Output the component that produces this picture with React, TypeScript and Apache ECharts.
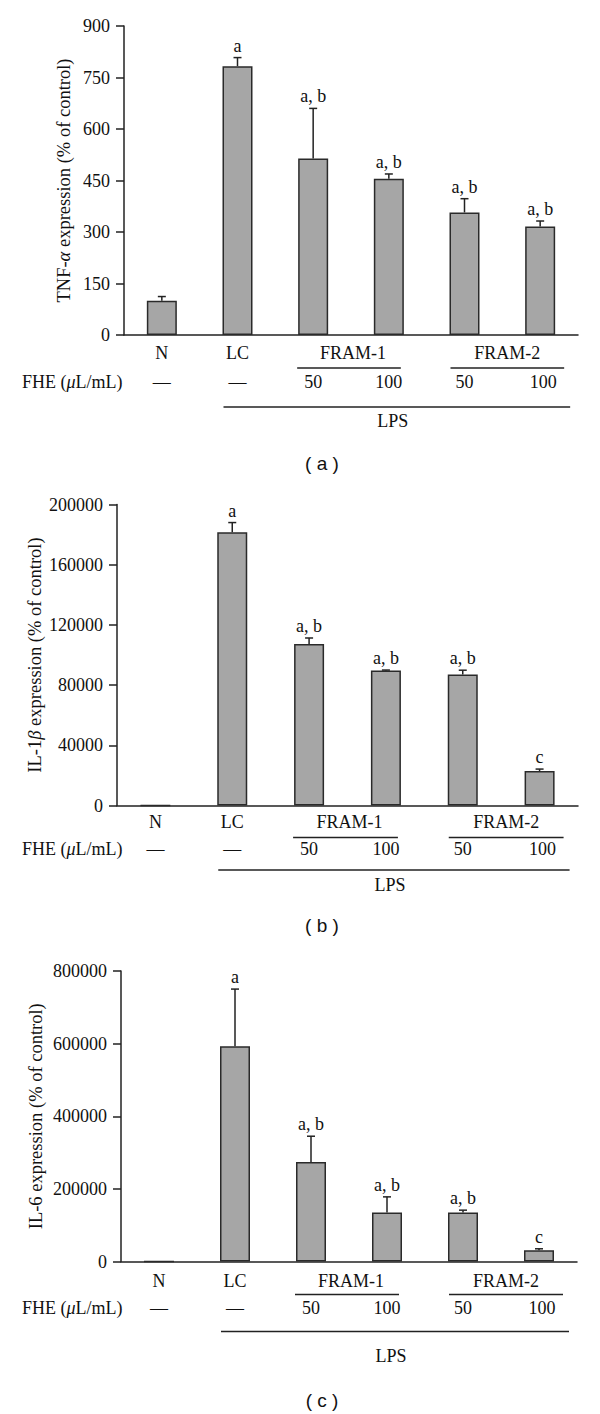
import React, { useEffect, useRef } from 'react';
import * as echarts from 'echarts';

const categories = ['N', 'LC', 'FRAM-1 50', 'FRAM-1 100', 'FRAM-2 50', 'FRAM-2 100'];
const groupNames = ['N', 'LC'];
const doseLabels = ['—', '—', '50', '100', '50', '100'];

const tnfMean = [100, 783, 514, 455, 357, 316];
const tnfSd = [12, 25, 146, 14, 40, 16];
const tnfSig = ['', 'a', 'a, b', 'a, b', 'a, b', 'a, b'];

const il1bMean = [100, 181600, 107300, 89700, 87000, 22900];
const il1bSd = [0, 6400, 4000, 300, 2900, 1300];
const il1bSig = ['', 'a', 'a, b', 'a, b', 'a, b', 'c'];

const il6Mean = [100, 592600, 274300, 135000, 135000, 31000];
const il6Sd = [0, 157600, 70700, 43000, 6400, 4000];
const il6Sig = ['', 'a', 'a, b', 'a, b', 'a, b', 'c'];

const yMaxes = [900, 200000, 800000];
const yIntervals = [150, 40000, 200000];
const yTitles = [
  'TNF-{i|α} expression (% of control)',
  'IL-1{i|β} expression (% of control)',
  'IL-6 expression (% of control)',
];
const captions = ['( a )', '( b )', '( c )'];

const SERIF = 'Liberation Serif';
const INK = '#111';

export default function App() {
  const ref = useRef<HTMLDivElement>(null);
  useEffect(() => {
    const chart = echarts.init(ref.current as HTMLDivElement, null, { renderer: 'svg' });
    const panels = [
      { mean: tnfMean, sd: tnfSd, sig: tnfSig },
      { mean: il1bMean, sd: il1bSd, sig: il1bSig },
      { mean: il6Mean, sd: il6Sd, sig: il6Sig },
    ];
    const grids = [
      { left: 124, top: 26, width: 454, height: 309 },
      { left: 117, top: 504.5, width: 461, height: 301 },
      { left: 121, top: 971, width: 456, height: 290.5 },
    ];
    const titleOff = [60, 82, 85];
    const rows = [
      { names: 18, under: 33, dose: 47, lps: 72, lpsText: 86, cap: 128 },
      { names: 16, under: 32, dose: 43, lps: 64.5, lpsText: 79, cap: 120 },
      { names: 19, under: 33, dose: 46, lps: 70, lpsText: 94, cap: 139 },
    ];
    const lineStyle = { color: '#222', width: 1.5 };

    const series: any[] = [];
    panels.forEach((p, i) => {
      series.push({
        type: 'bar',
        xAxisIndex: i,
        yAxisIndex: i,
        data: p.mean,
        barWidth: 30,
        itemStyle: { color: '#a6a6a6', borderColor: '#2a2a2a', borderWidth: 1.5 },
        z: 2,
      });
      series.push({
        type: 'custom',
        xAxisIndex: i,
        yAxisIndex: i,
        z: 3,
        data: p.mean.map((m, k) => [k, m, m + p.sd[k]]),
        renderItem: (params: any, api: any) => {
          const k = api.value(0);
          const p0 = api.coord([k, api.value(1)]);
          const p1 = api.coord([k, api.value(2)]);
          const children: any[] = [];
          if (p.sd[params.dataIndex] > 0) {
            children.push({
              type: 'line',
              shape: { x1: p0[0], y1: p0[1], x2: p1[0], y2: p1[1] },
              style: { stroke: '#222', lineWidth: 1.5 },
            });
            children.push({
              type: 'line',
              shape: { x1: p1[0] - 4, y1: p1[1], x2: p1[0] + 4, y2: p1[1] },
              style: { stroke: '#222', lineWidth: 1.5 },
            });
          }
          const lab = p.sig[params.dataIndex];
          if (lab) {
            children.push({
              type: 'text',
              x: p1[0],
              y: p1[1] - 3,
              style: {
                text: lab,
                fontSize: 18,
                fontFamily: SERIF,
                fill: INK,
                align: 'center',
                verticalAlign: 'bottom',
                textAlign: 'center',
                textVerticalAlign: 'bottom',
              },
            });
          }
          return { type: 'group', children };
        },
      });
    });

    chart.setOption({
      animation: false,
      grid: grids,
      xAxis: panels.map((_, i) => ({
        type: 'category',
        gridIndex: i,
        data: categories,
        boundaryGap: true,
        axisLine: { lineStyle },
        axisTick: { show: false },
        axisLabel: { show: false },
      })),
      yAxis: panels.map((_, i) => ({
        type: 'value',
        gridIndex: i,
        min: 0,
        max: yMaxes[i],
        interval: yIntervals[i],
        axisLine: { show: true, lineStyle },
        axisTick: { show: true, length: 8, lineStyle },
        axisLabel: {
          fontFamily: SERIF,
          fontSize: 18,
          color: INK,
          margin: 14,
          formatter: (v: number) => String(v),
        },
        splitLine: { show: false },
      })),
      series,
    });

    const graphic: any[] = [];
    const txt = (x: number, y: number, text: string, extra: any = {}) => ({
      type: 'text',
      x,
      y,
      style: {
        text,
        fontSize: 18,
        fontFamily: SERIF,
        fill: INK,
        align: 'center',
        verticalAlign: 'middle',
        textAlign: 'center',
        textVerticalAlign: 'middle',
        ...extra,
      },
    });
    const ln = (x1: number, y1: number, x2: number, y2: number) => ({
      type: 'line',
      shape: { x1, y1, x2, y2 },
      style: { stroke: '#222', lineWidth: 1.5 },
    });

    panels.forEach((_, i) => {
      const pts = categories.map((_, k) => chart.convertToPixel({ gridIndex: i }, [k, 0]) as number[]);
      const cx = pts.map((q) => q[0]);
      const y0 = pts[0][1];
      const r = rows[i];
      const g = grids[i];
      graphic.push({
        type: 'text',
        x: g.left - titleOff[i],
        y: g.top + g.height / 2,
        rotation: Math.PI / 2,
        style: {
          text: yTitles[i],
          fontSize: 18.5,
          fontFamily: SERIF,
          fill: INK,
          align: 'center',
          verticalAlign: 'middle',
          textAlign: 'center',
          textVerticalAlign: 'middle',
          rich: { i: { fontStyle: 'italic', fontSize: 18.5, fontFamily: SERIF, fill: INK } },
        },
      });
      groupNames.forEach((n, k) => graphic.push(txt(cx[k], y0 + r.names, n)));
      graphic.push(txt((cx[2] + cx[3]) / 2 + 2, y0 + r.names, 'FRAM-1'));
      graphic.push(txt((cx[4] + cx[5]) / 2 + 5, y0 + r.names, 'FRAM-2'));
      graphic.push(ln(cx[2] - 16, y0 + r.under, cx[3] + 12, y0 + r.under));
      graphic.push(ln(cx[4] - 14, y0 + r.under, cx[5] + 24, y0 + r.under));
      graphic.push({
        type: 'text',
        x: 22,
        y: y0 + r.dose,
        style: {
          text: 'FHE ({i|μ}L/mL)',
          fontSize: 18,
          fontFamily: SERIF,
          fill: INK,
          align: 'left',
          verticalAlign: 'middle',
          textAlign: 'left',
          textVerticalAlign: 'middle',
          rich: { i: { fontStyle: 'italic', fontSize: 18, fontFamily: SERIF, fill: INK } },
        },
      });
      doseLabels.forEach((d, k) => graphic.push(txt(cx[k] + (k === 5 ? 3 : 0), y0 + r.dose, d)));
      const lx1 = cx[1] - 14;
      const lx2 = cx[5] + 30;
      graphic.push(ln(lx1, y0 + r.lps, lx2, y0 + r.lps));
      graphic.push(txt((lx1 + lx2) / 2 - 4, y0 + r.lpsText, 'LPS'));
      graphic.push(
        txt(322, y0 + r.cap, captions[i], { fontFamily: 'Liberation Sans', fontSize: 19 })
      );
    });

    chart.setOption({ graphic });
    return () => chart.dispose();
  }, []);
  return (
    <div
      ref={ref}
      style={{ position: 'absolute', left: 0, top: 0, width: 600, height: 1414, background: '#fff' }}
    />
  );
}
